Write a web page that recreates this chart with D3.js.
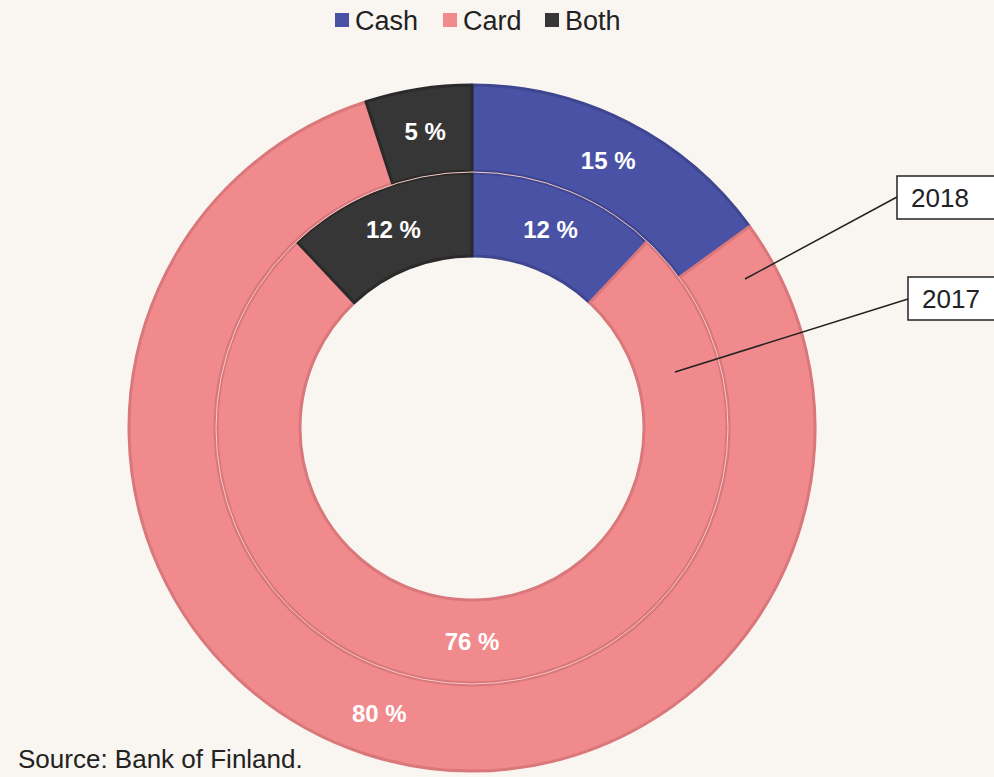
<!DOCTYPE html>
<html>
<head>
<meta charset="utf-8">
<script src="https://cdn.jsdelivr.net/npm/d3@7"></script>
<style>
  html, body { margin: 0; padding: 0; background: #f9f5f0; }
  svg { display: block; font-family: "Liberation Sans", Arial, sans-serif; }
</style>
</head>
<body>
<div id="chart"></div>
<script>
const categories = ["Cash", "Card", "Both"]
const colors = ["#4a52a6", "#f08a8c", "#363636"]
const edgeColors = ["#3f4690", "#d9777a", "#2a2a2a"]
const years = ["2017", "2018"]
const values2017 = [12, 76, 12]
const values2018 = [15, 80, 5]

const width = 994, height = 777
const cx = 472, cy = 428

const svg = d3.select("#chart").append("svg")
  .attr("width", width)
  .attr("height", height)

svg.append("rect").attr("width", width).attr("height", height).attr("fill", "#f9f5f0")

const pie = d3.pie().sort(null).value(d => d)

const rings = [
  { year: "2017", values: values2017, inner: 172, outer: 255 },
  { year: "2018", values: values2018, inner: 257, outer: 343 }
]

const g = svg.append("g").attr("transform", `translate(${cx},${cy})`)

rings.forEach(ring => {
  const arc = d3.arc().innerRadius(ring.inner).outerRadius(ring.outer)
  const mid = (ring.inner + ring.outer) / 2
  const labelArc = d3.arc().innerRadius(mid).outerRadius(mid)
  const arcs = pie(ring.values)

  g.append("g").selectAll("path")
    .data(arcs)
    .join("path")
    .attr("d", arc)
    .attr("fill", (d, i) => colors[i])
    .attr("stroke", (d, i) => edgeColors[i])
    .attr("stroke-width", 3)
    .attr("stroke-linejoin", "round")

  g.append("g").selectAll("text")
    .data(arcs)
    .join("text")
    .attr("transform", d => `translate(${labelArc.centroid(d)})`)
    .attr("text-anchor", "middle")
    .attr("dy", "0.36em")
    .attr("fill", "#ffffff")
    .attr("font-weight", "bold")
    .attr("font-size", 24)
    .text(d => d.data + " %")
})

// thin light line between the two rings
g.append("circle").attr("r", 256).attr("fill", "none")
  .attr("stroke", "#f6c9c8").attr("stroke-width", 1)

// callouts
const callouts = [
  { text: "2018", from: [745, 279], to: [897, 197], box: [897, 176, 110, 43] },
  { text: "2017", from: [675, 372], to: [908, 299], box: [908, 277, 100, 43] }
]
callouts.forEach(c => {
  svg.append("line")
    .attr("x1", c.from[0]).attr("y1", c.from[1])
    .attr("x2", c.to[0]).attr("y2", c.to[1])
    .attr("stroke", "#222").attr("stroke-width", 1.5)
  svg.append("rect")
    .attr("x", c.box[0]).attr("y", c.box[1])
    .attr("width", c.box[2]).attr("height", c.box[3])
    .attr("fill", "#ffffff").attr("stroke", "#222").attr("stroke-width", 1.5)
  svg.append("text")
    .attr("x", c.box[0] + 14).attr("y", c.box[1] + c.box[3] / 2)
    .attr("dy", "0.36em")
    .attr("font-size", 26)
    .attr("fill", "#222")
    .text(c.text)
})

// legend
const legendX = [335, 443, 545]
const legend = svg.append("g")
legend.selectAll("rect")
  .data(categories)
  .join("rect")
  .attr("x", (d, i) => legendX[i])
  .attr("y", 13)
  .attr("width", 14).attr("height", 14)
  .attr("fill", (d, i) => colors[i])
legend.selectAll("text")
  .data(categories)
  .join("text")
  .attr("x", (d, i) => legendX[i] + 20)
  .attr("y", 20)
  .attr("dy", "0.36em")
  .attr("font-size", 27)
  .attr("fill", "#222")
  .text(d => d)

svg.append("text")
  .attr("x", 18).attr("y", 768)
  .attr("font-size", 26)
  .attr("fill", "#222")
  .text("Source: Bank of Finland.")
</script>
</body>
</html>
